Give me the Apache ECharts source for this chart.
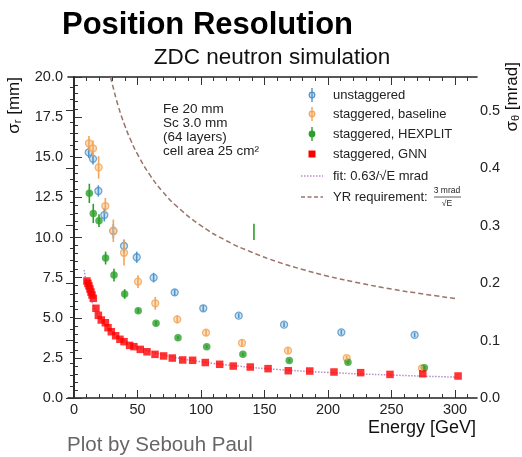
<!DOCTYPE html>
<html>
<head>
<meta charset="utf-8">
<script src="https://cdn.jsdelivr.net/npm/echarts@6/dist/echarts.min.js"></script>
<style>
  html, body { margin: 0; padding: 0; background: #fff; }
  #chart { width: 522px; height: 457px; }
</style>
</head>
<body>
<div id="chart"></div>
<script>
// unstaggered
var unstagE = [11.6, 15.0, 19.2, 23.9, 31.0, 39.4, 49.4, 62.7, 79.3, 101.8, 129.7, 165.4, 210.5, 268.2];
var unstagS = [15.3, 14.9, 12.9, 11.4, 10.4, 9.47, 8.77, 7.5, 6.58, 5.59, 5.13, 4.57, 4.09, 3.93];
var unstagErr = [0.35, 0.35, 0.35, 0.4, 0.45, 0.4, 0.35, 0.3, 0.2, 0.2, 0.15, 0.15, 0.15, 0.15];
// staggered, baseline
var baseE = [11.8, 15.0, 19.4, 24.7, 31.0, 39.4, 50.4, 64.0, 81.3, 104.0, 132.3, 168.5, 214.7, 274.0];
var baseS = [15.87, 15.55, 14.37, 11.96, 10.42, 9.05, 7.25, 5.9, 4.9, 4.07, 3.43, 2.95, 2.49, 1.85];
var baseErr = [0.45, 0.5, 0.7, 0.5, 0.7, 0.8, 0.4, 0.4, 0.25, 0.2, 0.2, 0.2, 0.15, 0.15];
// staggered, HEXPLIT
var hexE = [12.1, 15.2, 19.7, 24.9, 31.5, 39.9, 50.6, 64.6, 81.9, 104.5, 133.0, 169.5, 215.7, 275.8];
var hexS = [12.75, 11.5, 11.05, 8.72, 7.66, 6.48, 5.44, 4.65, 3.76, 3.2, 2.72, 2.33, 2.22, 1.89];
var hexErr = [0.6, 0.6, 0.4, 0.4, 0.4, 0.3, 0.15, 0.15, 0.1, 0.1, 0.1, 0.1, 0.1, 0.1];
var hexStrayE = [141.7];
var hexStrayS = [10.35];
var hexStrayErr = [0.5];
// staggered, GNN
var gnnE = [10.2, 11.0, 11.8, 12.6, 13.4, 14.2, 15.2, 17.3, 19.2, 21.5, 24.7, 26.8, 29.4, 32.8, 36.2, 39.4,
  43.8, 47.2, 52.2, 57.5, 63.8, 70.6, 77.4, 85.6, 93.4, 103.4, 114.7, 125.4, 138.8, 152.8, 168.7, 185.6,
  204.7, 225.7, 248.8, 274.6, 302.4];
var gnnS = [7.29, 7.14, 6.98, 6.79, 6.6, 6.42, 6.21, 5.59, 5.15, 4.86, 4.69, 4.38, 4.13, 3.88, 3.66, 3.51,
  3.28, 3.2, 3.03, 2.88, 2.72, 2.62, 2.49, 2.37, 2.35, 2.21, 2.1, 1.99, 1.93, 1.83, 1.7, 1.68,
  1.62, 1.58, 1.47, 1.51, 1.37];
// fit: 0.63/sqrt(E) mrad
var fitE = [8, 10, 12, 15, 20, 25, 30, 40, 50, 60, 80, 100, 130, 160, 200, 250, 300];
var fitS = [7.97, 7.13, 6.51, 5.82, 5.04, 4.51, 4.12, 3.57, 3.19, 2.91, 2.52, 2.26, 1.98, 1.78, 1.59, 1.43, 1.30];
// YR requirement: 3 mrad/sqrt(E)
var yrE = [28.8, 30, 35, 40, 45, 50, 60, 70, 80, 100, 120, 140, 160, 180, 200, 225, 250, 275, 300];
var yrS = [20.0, 19.61, 18.15, 16.98, 16.01, 15.19, 13.87, 12.84, 12.01, 10.74, 9.80, 9.08, 8.49, 8.01, 7.59, 7.16, 6.79, 6.48, 6.20];

var xMajor = [0, 50, 100, 150, 200, 250, 300];
var xMinor = [];
for (var v = 0; v <= 310; v += 10) xMinor.push(v);
var rMajor = [0, 0.1, 0.2, 0.3, 0.4, 0.5];
var rMinor = [];
for (var k = 0; k <= 27; k++) rMinor.push(+(k * 0.02).toFixed(2));

var XMIN = -4.7, XMAX = 317.3;
var RMAX = 0.5587;
var FONT = '"Liberation Sans", Arial, sans-serif';

var chart = echarts.init(document.getElementById('chart'));

function pts(E, S, Err) {
  return E.map(function (e, i) { return Err ? [e, S[i], Err[i]] : [e, S[i]]; });
}

function errBar(color) {
  return function (params, api) {
    var x = api.value(0), y = api.value(1), e = api.value(2);
    var a = api.coord([x, y - e]);
    var b = api.coord([x, y + e]);
    return {
      type: 'line',
      shape: { x1: a[0], y1: a[1], x2: b[0], y2: b[1] },
      style: { stroke: color, lineWidth: 1.6 }
    };
  };
}

var cBlue = '#4e93c9', cOrange = '#f2a457', cGreen = '#2ca02c', cRed = '#ff0000';

function xAxisDef(pos, vals, len, line, label) {
  return {
    type: 'value', min: XMIN, max: XMAX, position: pos,
    axisLine: { show: line, onZero: false, lineStyle: { color: '#222', width: 1.6 } },
    axisTick: { show: true, inside: true, length: len, customValues: vals, lineStyle: { color: '#333', width: 1 } },
    axisLabel: label ? { customValues: xMajor, fontSize: 14.5, color: '#222', fontFamily: FONT, margin: 4 } : { show: false },
    splitLine: { show: false }
  };
}

var legendY = [95, 114, 134, 154, 176, 197];
var legendNames = ['unstaggered', 'staggered, baseline', 'staggered, HEXPLIT', 'staggered, GNN', 'fit: 0.63/\u221AE mrad', 'YR requirement:'];

var graphics = [
  { type: 'text', left: 62, top: 10, style: { text: 'Position Resolution', font: 'bold 31px ' + FONT, fill: '#000' } },
  { type: 'text', x: 272, y: 58, style: { text: 'ZDC neutron simulation', font: '22.5px ' + FONT, fill: '#111', align: 'center', verticalAlign: 'middle' } },
  { type: 'text', x: 14, y: 77, rotation: Math.PI / 2, style: {
      text: '{a|\u03C3}{s|r}{a| [mm]}', align: 'right', verticalAlign: 'middle',
      rich: { a: { font: '17px ' + FONT, fill: '#111' }, s: { font: '11px ' + FONT, fill: '#111', verticalAlign: 'bottom', padding: [8, 0, 0, 0] } } } },
  { type: 'text', x: 512, y: 62, rotation: Math.PI / 2, style: {
      text: '{a|\u03C3}{s|\u03B8}{a| [mrad]}', align: 'right', verticalAlign: 'middle',
      rich: { a: { font: '17px ' + FONT, fill: '#111' }, s: { font: '11px ' + FONT, fill: '#111', verticalAlign: 'bottom', padding: [8, 0, 0, 0] } } } },
  { type: 'text', x: 476, y: 428, style: { text: 'Energy [GeV]', font: '18px ' + FONT, fill: '#111', align: 'right', verticalAlign: 'middle' } },
  { type: 'text', x: 67, y: 445, style: { text: 'Plot by Sebouh Paul', font: '20.5px ' + FONT, fill: '#666', align: 'left', verticalAlign: 'middle' } },
  { type: 'text', x: 163, y: 102, style: { text: 'Fe 20 mm\nSc 3.0 mm\n(64 layers)\ncell area 25 cm\u00B2', font: '13.5px ' + FONT, fill: '#222', lineHeight: 14.2 } }
];

legendNames.forEach(function (name, i) {
  graphics.push({ type: 'text', x: 333, y: legendY[i], style: { text: name, font: '13px ' + FONT, fill: '#222', verticalAlign: 'middle' } });
});
[[cBlue, '#c3dcef'], [cOrange, '#fbd7ae'], [cGreen, cGreen]].forEach(function (c, i) {
  var y = legendY[i];
  graphics.push({ type: 'circle', shape: { cx: 312, cy: y, r: 2.8 }, style: { fill: c[1], stroke: c[0], lineWidth: 1.2 } });
  graphics.push({ type: 'line', shape: { x1: 312, y1: y - 7, x2: 312, y2: y + 7 }, style: { stroke: c[0], lineWidth: 1.4 } });
});
graphics.push({ type: 'rect', shape: { x: 308.5, y: legendY[3] - 3.5, width: 7, height: 7 }, style: { fill: cRed } });
graphics.push({ type: 'line', shape: { x1: 301, y1: legendY[4], x2: 323, y2: legendY[4] }, style: { stroke: '#b98ac8', lineWidth: 1.4, lineDash: [1.5, 1.5] } });
graphics.push({ type: 'line', shape: { x1: 301, y1: legendY[5], x2: 323, y2: legendY[5] }, style: { stroke: '#9a7468', lineWidth: 1.4, lineDash: [4, 2.5] } });
graphics.push({ type: 'text', x: 447, y: legendY[5] - 6, style: { text: '3 mrad', font: '8.5px ' + FONT, fill: '#222', align: 'center', verticalAlign: 'middle' } });
graphics.push({ type: 'line', shape: { x1: 434, y1: legendY[5], x2: 461, y2: legendY[5] }, style: { stroke: '#333', lineWidth: 0.8 } });
graphics.push({ type: 'text', x: 447, y: legendY[5] + 6.5, style: { text: '\u221AE', font: '8.5px ' + FONT, fill: '#222', align: 'center', verticalAlign: 'middle' } });

chart.setOption({
  backgroundColor: '#fff',
  animation: false,
  grid: { left: 68, right: 45, top: 77, bottom: 59, containLabel: false, show: false },
  xAxis: [
    xAxisDef('bottom', xMajor, 8, true, true),
    xAxisDef('bottom', xMinor, 4, false, false),
    xAxisDef('top', xMajor, 8, true, false),
    xAxisDef('top', xMinor, 4, false, false)
  ],
  yAxis: [
    {
      type: 'value', min: 0, max: 20, interval: 2.5, position: 'left',
      axisLine: { show: true, lineStyle: { color: '#222', width: 1.6 } },
      axisTick: { show: true, inside: true, length: 8, lineStyle: { color: '#333' } },
      minorTick: { show: true, splitNumber: 5, length: 4, lineStyle: { color: '#333' } },
      axisLabel: { fontSize: 14.5, color: '#222', fontFamily: FONT, margin: 5, formatter: function (v) { return v.toFixed(1); } },
      splitLine: { show: false }
    },
    {
      type: 'value', min: 0, max: RMAX, position: 'right',
      axisLine: { show: true, lineStyle: { color: '#222', width: 1.6 } },
      axisTick: { show: true, inside: true, length: 8, customValues: rMajor, lineStyle: { color: '#333' } },
      axisLabel: { customValues: rMajor, fontSize: 14.5, color: '#222', fontFamily: FONT, margin: 3, formatter: function (v) { return v.toFixed(1); } },
      splitLine: { show: false }
    },
    {
      type: 'value', min: 0, max: RMAX, position: 'right',
      axisLine: { show: false },
      axisTick: { show: true, inside: true, length: 4, customValues: rMinor, lineStyle: { color: '#333' } },
      axisLabel: { show: false },
      splitLine: { show: false }
    }
  ],
  graphic: graphics,
  series: [
    {
      name: 'YR requirement', type: 'line', smooth: true, symbol: 'none', z: 2,
      data: pts(yrE, yrS),
      lineStyle: { color: '#9a7468', width: 1.5, type: [5, 3] }
    },
    {
      name: 'fit', type: 'line', smooth: true, symbol: 'none', z: 2,
      data: pts(fitE, fitS),
      lineStyle: { color: '#b98ac8', width: 1.5, type: [1.5, 1.5] }
    },
    { name: 'unstaggered', type: 'scatter', symbol: 'circle', symbolSize: 7, z: 3,
      data: pts(unstagE, unstagS), itemStyle: { color: '#c3dcef', borderColor: cBlue, borderWidth: 1.3 } },
    { type: 'custom', renderItem: errBar(cBlue), data: pts(unstagE, unstagS, unstagErr), z: 4, clip: true },
    { name: 'staggered, baseline', type: 'scatter', symbol: 'circle', symbolSize: 7, z: 3,
      data: pts(baseE, baseS), itemStyle: { color: '#fbd7ae', borderColor: cOrange, borderWidth: 1.3 } },
    { type: 'custom', renderItem: errBar(cOrange), data: pts(baseE, baseS, baseErr), z: 4, clip: true },
    { name: 'staggered, HEXPLIT', type: 'scatter', symbol: 'circle', symbolSize: 7.5, z: 3,
      data: pts(hexE, hexS), itemStyle: { color: cGreen } },
    { type: 'custom', renderItem: errBar(cGreen), data: pts(hexE, hexS, hexErr), z: 4, clip: true },
    { type: 'custom', renderItem: errBar(cGreen), data: pts(hexStrayE, hexStrayS, hexStrayErr), z: 4, clip: true },
    { name: 'staggered, GNN', type: 'scatter', symbol: 'rect', symbolSize: 7.5, z: 3,
      data: pts(gnnE, gnnS), itemStyle: { color: cRed } }
  ]
});
</script>
</body>
</html>
